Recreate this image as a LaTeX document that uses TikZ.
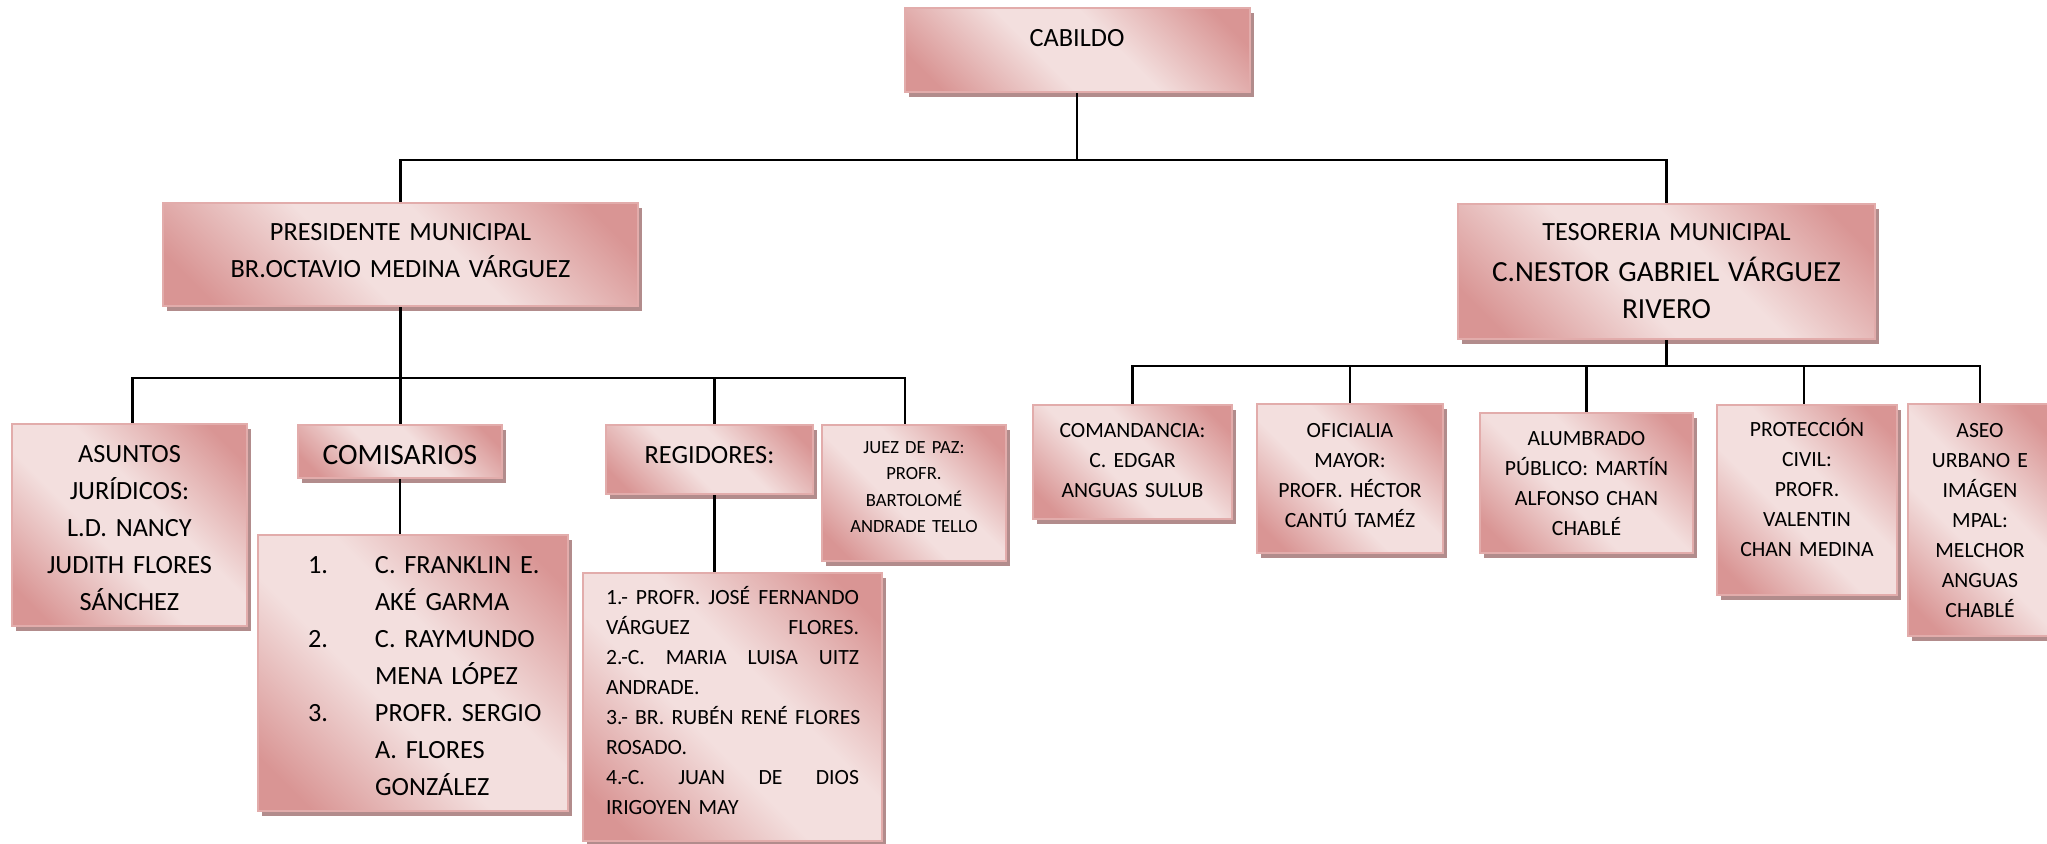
\documentclass[tikz,border=0pt]{standalone}
\usepackage{fontspec}
\setmainfont{Carlito}
\usetikzlibrary{shadows}

\definecolor{cajaosc}{RGB}{217,149,148}
\definecolor{cajaclara}{RGB}{243,223,222}
\definecolor{cajaborde}{RGB}{226,172,171}
\definecolor{sombra}{RGB}{178,140,140}
\pgfdeclareverticalshading{cajagrad}{100bp}{color(0bp)=(cajaosc); color(21bp)=(cajaosc); color(43bp)=(cajaclara); color(57bp)=(cajaclara); color(79bp)=(cajaosc); color(100bp)=(cajaosc)}

\tikzset{
	texto/.style={font=\fontsize{26.3pt}{37pt}\selectfont},
	grande/.style={font=\fontsize{29.5pt}{41pt}\selectfont},
	medio/.style={font=\fontsize{26.3pt}{37pt}\selectfont},
	chico/.style={font=\fontsize{21.7pt}{30pt}\selectfont},
	mini/.style={font=\fontsize{18.6pt}{26.5pt}\selectfont},
	linea/.style={line width=2.3pt}
}

\begin{document}
\begin{tikzpicture}[x=1pt, y=-1pt, every node/.style={draw=cajaborde, line width=2pt, shade, shading=cajagrad, shading angle=-45, drop shadow={shadow xshift=4pt, shadow yshift=-5pt, fill=sombra, opacity=1}, inner sep=0pt, align=center, anchor=north}]
	\useasboundingbox (0,0) rectangle (2047,843);

	% cabildo y dependencias directas
	\node[texto, minimum width=345pt, text width=330pt, text height=39pt, text depth=45pt] at (1077, 7) (CAB) {CABILDO};
	\node[texto, minimum width=475pt, text width=460pt, text height=37pt, text depth=66pt] at (400.5, 202) (PRES) {PRESIDENTE MUNICIPAL\\BR.OCTAVIO MEDINA VÁRGUEZ};
	\node[texto, minimum width=417pt, text width=405pt, text height=36pt, text depth=99pt] at (1666.5, 203) (TES) {TESORERIA MUNICIPAL\\\fontsize{29.2pt}{41pt}\selectfont C.NESTOR GABRIEL VÁRGUEZ\\RIVERO};

	% presidencia
	\node[texto, minimum width=235pt, text width=225pt, text height=38pt, text depth=164pt] at (129.5, 423) (ASU) {ASUNTOS\\JURÍDICOS:\\L.D. NANCY\\JUDITH FLORES\\SÁNCHEZ};
	\node[grande, minimum width=204pt, text width=195pt, text height=39pt, text depth=14pt] at (400, 424) (COM) {COMISARIOS};
	\node[texto, minimum width=310pt, text width=300pt, align=left, text height=38pt, text depth=238pt] at (413, 534) (COML) {%
		\hspace*{45pt}\makebox[67pt][l]{1.}C. FRANKLIN E.\\
		\hspace*{112pt}AKÉ GARMA\\
		\hspace*{45pt}\makebox[67pt][l]{2.}C. RAYMUNDO\\
		\hspace*{112pt}MENA LÓPEZ\\
		\hspace*{45pt}\makebox[67pt][l]{3.}PROFR. SERGIO\\
		\hspace*{112pt}A. FLORES\\
		\hspace*{112pt}GONZÁLEZ};
	\node[medio, minimum width=207pt, text width=195pt, text height=38pt, text depth=31pt] at (709.5, 424) (REG) {REGIDORES:};
	\node[chico, minimum width=299pt, text width=253pt, align=left, text height=31pt, text depth=237pt] at (732.5, 572) (REGL) {%
		\makebox[253pt][s]{1.- \hfill PROFR. \hfill JOSÉ \hfill FERNANDO}\\
		\makebox[253pt][s]{VÁRGUEZ \hfill FLORES.}\\
		\makebox[253pt][s]{2.-C. \hfill MARIA \hfill LUISA \hfill UITZ}\\
		ANDRADE.\\
		\makebox[253pt][s]{3.- \hfill BR. \hfill RUBÉN \hfill RENÉ \hfill FLORES}\\
		ROSADO.\\
		\makebox[253pt][s]{4.-C. \hfill JUAN \hfill DE \hfill DIOS}\\
		IRIGOYEN MAY};
	\node[mini, minimum width=184pt, text width=175pt, text height=28pt, text depth=108pt] at (914, 424) (JUEZ) {JUEZ DE PAZ:\\PROFR.\\BARTOLOMÉ\\ANDRADE TELLO};

	% tesoreria
	\node[chico, minimum width=199pt, text width=190pt, text height=32pt, text depth=82pt] at (1132.5, 404) (COMA) {COMANDANCIA:\\C. EDGAR\\ANGUAS SULUB};
	\node[chico, minimum width=186pt, text width=178pt, text height=33pt, text depth=116pt] at (1350, 403) (OFI) {OFICIALIA\\MAYOR:\\PROFR. HÉCTOR\\CANTÚ TAMÉZ};
	\node[chico, minimum width=213pt, text width=205pt, text height=32pt, text depth=108pt] at (1586.5, 412) (ALU) {ALUMBRADO\\PÚBLICO: MARTÍN\\ALFONSO CHAN\\CHABLÉ};
	\node[chico, minimum width=180pt, text width=172pt, text height=31pt, text depth=159pt] at (1807, 404) (PRO) {PROTECCIÓN\\CIVIL:\\PROFR.\\VALENTIN\\CHAN MEDINA};
	\node[chico, minimum width=144pt, text width=136pt, text height=33pt, text depth=199pt] at (1980, 403) (ASEO) {ASEO\\URBANO E\\IMÁGEN\\MPAL:\\MELCHOR\\ANGUAS\\CHABLÉ};

	\draw[linea] (CAB.south) -- ++(0,67) -| (PRES.north) (CAB.south) -- ++(0,67) -| (TES.north);
	\draw[linea] (PRES.south) -- (PRES.south |- COM.north);
	\draw[linea] (PRES.south) -- ++(0,71) -| ([xshift=3pt]ASU.north) (PRES.south) -- ++(0,71) -| ([xshift=5pt]REG.north) (PRES.south) -- ++(0,71) -| ([xshift=-9pt]JUEZ.north);
	\draw[linea] (COM.south) -- (COM.south |- COML.north);
	\draw[linea] ([xshift=5pt]REG.south) -- ([xshift=5pt]REG.south |- REGL.north);
	\draw[linea] (TES.south) -- ++(0,26) -| (COMA.north) (TES.south) -- ++(0,26) -| (OFI.north) (TES.south) -- ++(0,26) -| (ALU.north) (TES.south) -- ++(0,26) -| ([xshift=-3pt]PRO.north) (TES.south) -- ++(0,26) -| (ASEO.north);
\end{tikzpicture}
\end{document}
